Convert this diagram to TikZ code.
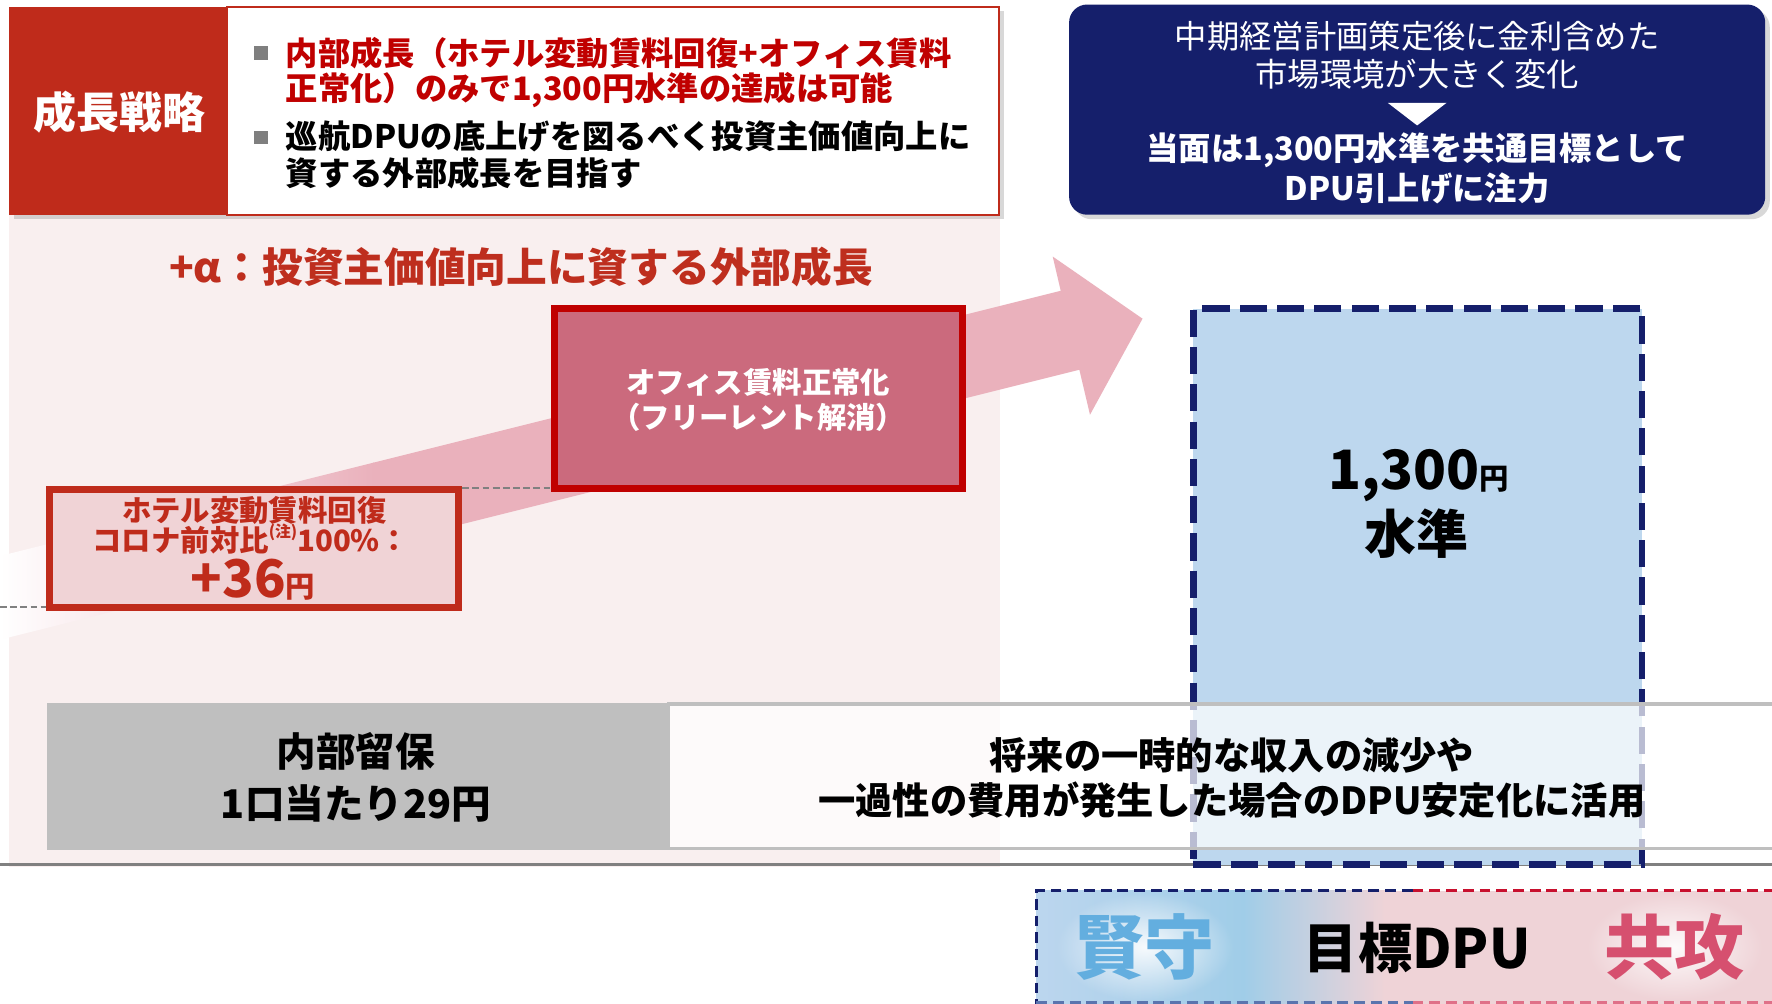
\documentclass[tikz,border=0pt]{standalone}
\usepackage{fontspec}
\setmainfont{Noto Sans CJK JP}
\usetikzlibrary{shadows,calc,fadings}
\definecolor{lblred}{HTML}{BF2B1B}
\definecolor{txtred}{HTML}{C00000}
\definecolor{alphared}{HTML}{BE2E1E}
\definecolor{navy}{HTML}{151F6B}
\definecolor{bgpink}{HTML}{F9EFEF}
\definecolor{arrowpink}{HTML}{EAB1BC}
\definecolor{hotelfill}{HTML}{F0D3D6}
\definecolor{officefill}{HTML}{CB6A7D}
\definecolor{officeline}{HTML}{C00000}
\definecolor{bluefill}{HTML}{BDD7EE}
\definecolor{boxgray}{HTML}{BFBFBF}
\definecolor{linegray}{HTML}{808080}
\definecolor{bulletgray}{HTML}{7F7F7F}
\definecolor{kenblue}{HTML}{63AEDF}
\definecolor{kyored}{HTML}{D6506F}
\definecolor{gradblue}{HTML}{A0CDE8}
\definecolor{gradpink}{HTML}{EFD3D7}
\definecolor{gradlight}{HTML}{BCD6EE}
\definecolor{dashred}{HTML}{C8102E}
\definecolor{dashnavyl}{HTML}{5A74AE}
\definecolor{dashredl}{HTML}{E07088}
\tikzfading[name=glowfade, inner color=transparent!10, outer color=transparent!100]
\begin{document}
\begin{tikzpicture}[x=0.5pt,y=-0.5pt,
  every node/.style={inner sep=0pt, outer sep=0pt},
  fs/.style={font=\fontsize{#1}{#1}\selectfont},
  bfs/.style={font=\fontsize{#1}{#1}\selectfont\bfseries},
  shad/.style={drop shadow={shadow xshift=2pt, shadow yshift=-2pt, opacity=0.3}},
  graydash/.style={draw=linegray, line width=1pt, dash pattern=on 3pt off 1.5pt},
  boxnode/.style={rectangle, outer sep=auto},
]
\useasboundingbox (0,0) rectangle (1568,888);
\clip (0,0) rectangle (1568,888);
\fill[white] (0,0) rectangle (1568,888);

% pink background
\fill[bgpink] (8,190) rectangle (885,767);
% base line
\draw[linegray, line width=1.2pt] (0,765) -- (1568,765);

% big arrow band
\shade[left color=white, right color=arrowpink] (0,492) -- (331,409.25) -- (331,483.25) -- (0,566) -- cycle;
\fill[arrowpink] (330,409.5) -- (938.6,257.3) -- (931.5,227) -- (1011,282) -- (964.5,367) -- (955.1,327.2) -- (330,483.5) -- cycle;

% boxes
\node[boxnode, draw=lblred, fill=hotelfill, line width=3pt, minimum width=181pt, minimum height=52.3pt] (hotel) at (225,485.3) {};
\node[boxnode, draw=officeline, fill=officefill, line width=3pt, minimum width=180.5pt, minimum height=79.5pt] (office) at (671.5,352.6) {};

% dashed guide lines
\coordinate (dlA) at (0,537);
\draw[graydash] (dlA) -- (dlA -| hotel.west);
\coordinate (dlB) at (409,432);
\draw[graydash] (dlB -| hotel.east) -- (dlB -| office.west);

% target box
\node[boxnode, draw=navy, fill=bluefill, line width=3pt, dash pattern=on 12pt off 4.5pt, minimum width=198.5pt, minimum height=246pt] (target) at (1254.5,519) {};

% reserve boxes
\node[boxnode, fill=boxgray, minimum width=274pt, minimum height=65pt] (reserve) at (316,687) {};
\node[boxnode, draw=boxgray, line width=1.5pt, fill=white, fill opacity=0.7, minimum width=505pt, minimum height=64pt, anchor=west] (usage) at (590,687) {};

% bottom goal box
\shade[left color=gradlight, right color=gradblue] (917,788) rectangle (1101,890);
\shade[left color=gradblue, right color=gradpink] (1100,788) rectangle (1226,890);
\fill[gradpink] (1225,788) rectangle (1570,890);
\draw[navy, line width=1.2pt, dash pattern=on 4.8pt off 2.6pt] (1250,788) -- (917,788) -- (917,888);
\draw[dashred, line width=1.2pt, dash pattern=on 4.8pt off 2.6pt] (1250,788) -- (1570,788);
\draw[dashnavyl, line width=1.2pt, dash pattern=on 4.8pt off 2.6pt] (917,887) -- (1250,887);
\draw[dashredl, line width=1.2pt, dash pattern=on 4.8pt off 2.6pt] (1250,887) -- (1570,887);

% header left
\node[boxnode, fill=lblred, minimum width=96.5pt, minimum height=92pt, shad] (lblbox) at (104.5,98) {};
\node[boxnode, draw=lblred, line width=1pt, fill=white, minimum width=341.5pt, minimum height=92pt, shad] (hbox) at (542.5,98) {};
\node[bfs=19, white] (lbl) at (106,99) {成長戦略};
\fill[bulletgray] (225,41) rectangle (237,53);
\fill[bulletgray] (225,115.5) rectangle (237,127.5);
\node[bfs=14.3, txtred, anchor=west] (h1) at (253,47) {内部成長（ホテル変動賃料回復+オフィス賃料};
\node[bfs=14.3, txtred, anchor=west] (h2) at (253,80) {正常化）のみで1,300円水準の達成は可能};
\node[bfs=14.3, anchor=west] (h3) at (253,121) {巡航DPUの底上げを図るべく投資主価値向上に};
\node[bfs=14.3, anchor=west] (h4) at (253,153) {資する外部成長を目指す};

% header right (navy)
\node[boxnode, fill=navy, rounded corners=8pt, minimum width=308pt, minimum height=93pt, shad] (navybox) at (1254,97) {};
\node[fs=14.3, white] (n1) at (1254,32) {中期経営計画策定後に金利含めた};
\node[fs=14.3, white] (n2) at (1254,66) {市場環境が大きく変化};
\fill[white] (1228,91) -- (1280,91) -- (1254,111) -- cycle;
\node[bfs=14.3, white] (n3) at (1254,133) {当面は1,300円水準を共通目標として};
\node[bfs=14.3, white] (n4) at (1254,167) {DPU引上げに注力};

% external growth title
\node[bfs=18, alphared] (plusa) at (461,236) {+α：投資主価値向上に資する外部成長};

% hotel texts
\node[bfs=13, lblred] (hot1) at (225,452) {ホテル変動賃料回復};
\node[bfs=13, lblred] (hot2) at (222,477) {コロナ前対比\raisebox{0.45em}{\fontsize{7}{7}\selectfont(注)}100\%：};
\node[bfs=23, lblred, anchor=base] (hot3) at (224,529) {+36\fontsize{13}{13}\selectfont 円};

% office texts
\node[bfs=13, white] (of1) at (671,338) {オフィス賃料正常化};
\node[bfs=13, white] (of2) at (671,369.5) {（フリーレント解消）};

% target texts
\node[bfs=24, anchor=base] (t1) at (1255,433.5) {1,300\fontsize{13}{13}\selectfont 円};
\node[bfs=23] (t2) at (1253,472) {水準};

% reserve texts
\node[bfs=17.5] (r1) at (315,665) {内部留保};
\node[bfs=17.5] (r2) at (315,711) {1口当たり29円};
\node[bfs=16.5] (u1) at (1090,668) {将来の一時的な収入の減少や};
\node[bfs=16.5] (u2) at (1090,708) {一過性の費用が発生した場合のDPU安定化に活用};

% goal texts with soft white glow
\fill[white, path fading=glowfade] (1013,838) ellipse (78 and 48);
\fill[white, path fading=glowfade] (1482,838) ellipse (78 and 48);
\node[bfs=31, kenblue] (ken) at (1013,838) {賢守};
\node[bfs=31, kyored] (kyo) at (1482,838) {共攻};
\node[bfs=24] (goal) at (1254,839) {目標DPU};
\end{tikzpicture}
\end{document}
